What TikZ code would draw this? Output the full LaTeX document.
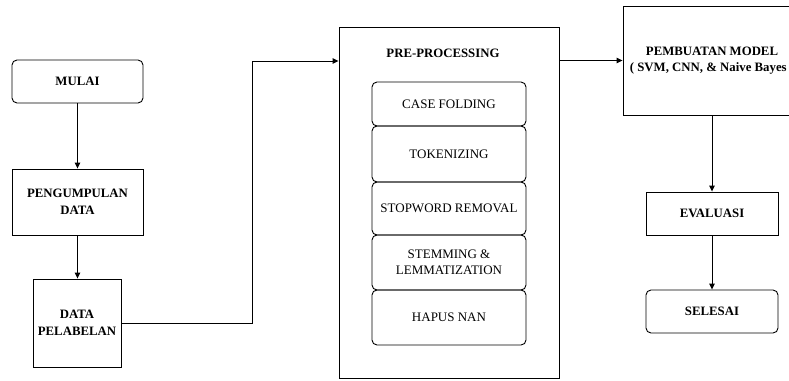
\documentclass[tikz,border=0pt]{standalone}
\usepackage{fontspec}
\setmainfont{Liberation Serif}
\usetikzlibrary{arrows.meta,positioning}

\begin{document}
\begin{tikzpicture}[x=1pt,y=1pt,
  line width=0.9pt,
  every node/.style={align=center, font=\fontsize{12.8}{16.5}\selectfont},
  outerbox/.style={draw, rectangle, inner sep=0pt, font=\fontsize{12.8}{16.5}\selectfont\bfseries},
  termbox/.style={outerbox, rounded corners=5pt},
  stepbox/.style={draw, rectangle, rounded corners=5pt, inner sep=0pt,
                  minimum width=154pt, font=\fontsize{13}{16}\selectfont},
  flow/.style={-{Triangle[length=6pt,width=5.5pt]}}
]
\path[use as bounding box, clip] (0,0) rectangle (789,-380);
\fill[white] (0,0) rectangle (789,-380);

% left column
\node[termbox, minimum width=131pt, minimum height=43pt] (mulai) at (77.5,-81.5) {MULAI};
\node[outerbox, minimum width=131pt, minimum height=66pt] (kumpul) at (77.5,-202) {PENGUMPULAN\\DATA};
\node[outerbox, minimum width=88pt, minimum height=88pt] (label) at (77,-323) {DATA\\PELABELAN};

% pre-processing block
\node[outerbox, minimum width=220pt, minimum height=351pt] (pre) at (449,-202.5) {};
\node[font=\fontsize{12.8}{14}\selectfont\bfseries] (pretitle) at (443,-53) {PRE-PROCESSING};
\node[stepbox, minimum height=44pt] (casefold) at (449,-104) {CASE FOLDING};
\node[stepbox, minimum height=56pt] (token) at (449,-154) {TOKENIZING};
\node[stepbox, minimum height=53pt] (stopw) at (449,-208.5) {STOPWORD REMOVAL};
\node[stepbox, minimum height=55pt] (stem) at (449,-262.5) {STEMMING \&\\LEMMATIZATION};
\node[stepbox, minimum height=55pt] (hapus) at (449,-317.5) {HAPUS NAN};

% right column
\node[outerbox, minimum width=178pt, minimum height=109pt] (model) at (712,-60.5) {PEMBUATAN MODEL\\( SVM, CNN, \& Naive Bayes )};
\node[outerbox, minimum width=132pt, minimum height=43pt] (eval) at (712,-213.5) {EVALUASI};
\node[termbox, minimum width=132pt, minimum height=43pt] (selesai) at (712,-311.5) {SELESAI};

% connectors
\coordinate (jog) at (252,-61);
\draw[flow] (mulai) -- (kumpul);
\draw[flow] (kumpul.south -| mulai) -- (label.north -| mulai);
\draw[flow] (label.east) -| (jog) -- (pre.west |- jog);
\draw[flow] (pre.east |- model.west) -- (model.west);
\draw[flow] (model) -- (eval);
\draw[flow] (eval) -- (selesai);
\end{tikzpicture}
\end{document}
